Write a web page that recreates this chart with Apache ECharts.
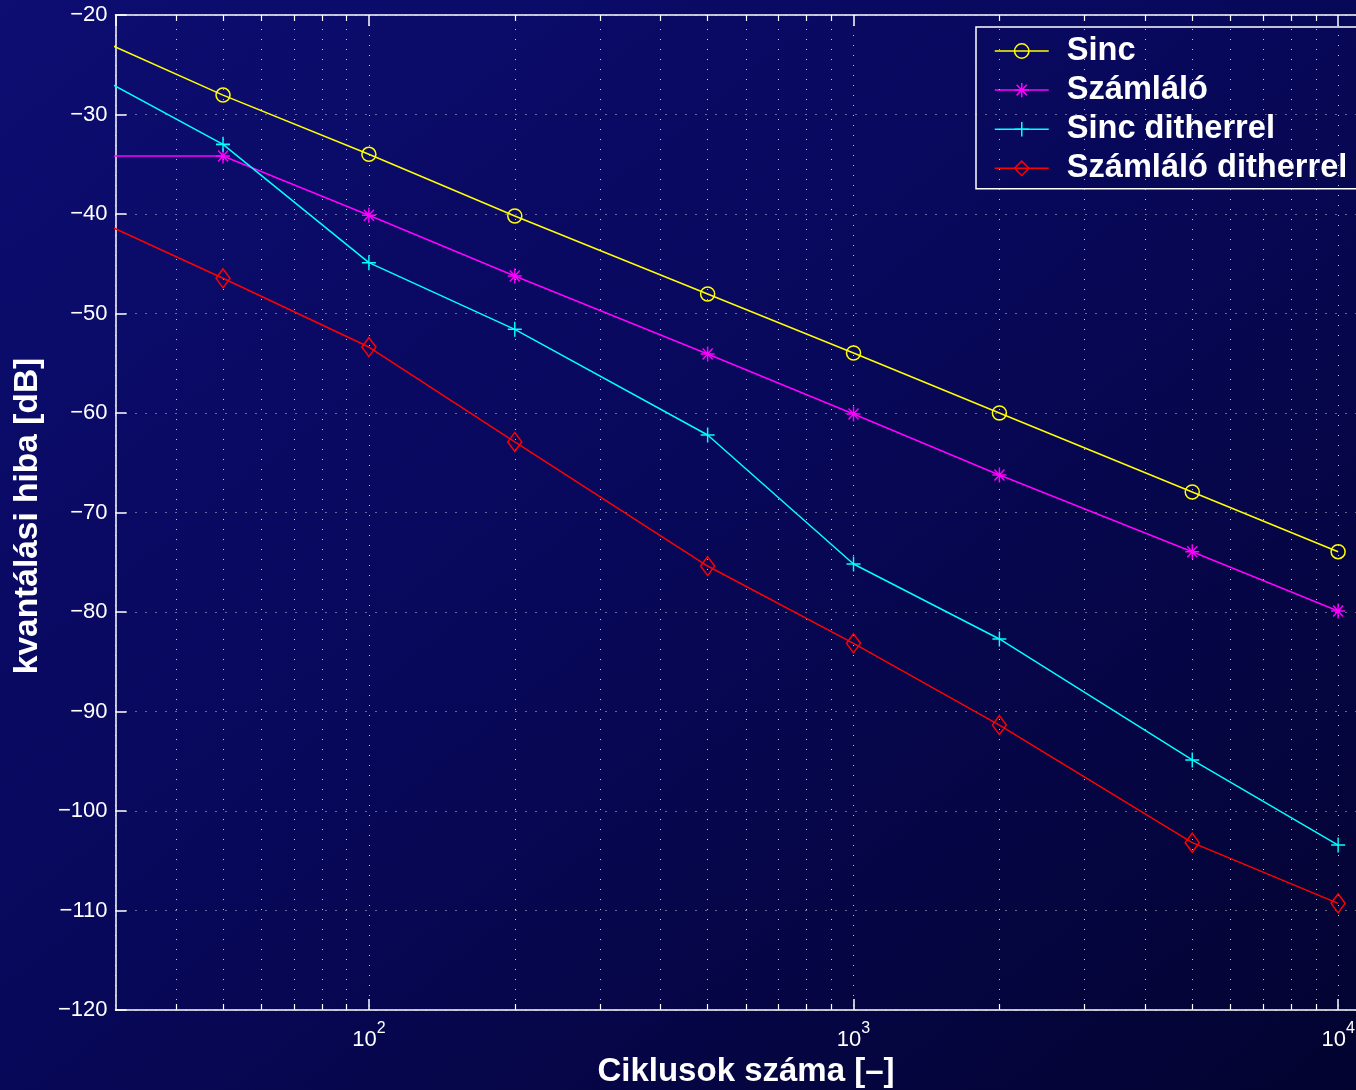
<!DOCTYPE html>
<html><head><meta charset="utf-8">
<script src="https://cdn.jsdelivr.net/npm/echarts@6/dist/echarts.min.js"></script>
<style>
html,body{margin:0;padding:0;width:1356px;height:1090px;overflow:hidden;
background:linear-gradient(to bottom right,#0d0d72 0%,#08085c 45%,#030330 100%);}
#c{width:1356px;height:1090px;}
</style></head><body><div id="c"></div>
<script>
// ---- data ----
const cycles = [20, 50, 100, 200, 500, 1000, 2000, 5000, 10000];
const sinc = [-19.4, -28.05, -34.0, -40.2, -48.04, -53.97, -60.0, -67.94, -73.94];
const szamlalo = [-34.17, -34.17, -40.13, -46.23, -54.07, -60.1, -66.23, -73.94, -79.9];
const sincDither = [-22.5, -33.0, -44.89, -51.59, -62.21, -75.18, -82.71, -94.87, -103.42];
const szamlaloDither = [-37.53, -46.46, -53.37, -62.91, -75.38, -83.15, -91.36, -103.18, -109.28];
const seriesNames = ['Sinc', 'Számláló', 'Sinc ditherrel', 'Számláló ditherrel'];
const minorX = [40, 50, 60, 70, 80, 90, 200, 300, 400, 500, 600, 700, 800, 900,
  2000, 3000, 4000, 5000, 6000, 7000, 8000, 9000];
const xMin = 30, xMax = 12000, yMin = -120, yMax = -20, yStep = 10;
const xTitle = 'Ciklusok száma [–]';
const yTitle = 'kvantálási hiba [dB]';

const FONT = "'Liberation Sans', Arial, Helvetica, sans-serif";
const WHITE = '#ffffff';
const DOT = { color: 'rgba(220,220,220,0.9)', type: [1, 9], width: 1 };

const pairs = ys => cycles.map((x, i) => [x, ys[i]]);

function dataSeries(name, ys, color, symbol, size) {
  return {
    type: 'line', name: name, data: pairs(ys), z: 5,
    clip: true, symbol: symbol, symbolSize: size,
    lineStyle: { color: color, width: 1.5 },
    itemStyle: { color: 'rgba(0,0,0,0)', borderColor: color, borderWidth: 1.5 },
    color: color,
    emphasis: { disabled: true }
  };
}

const ASTER = 'path://M0,7.5L14,7.5M7,0L7,15M2,2L12,13M2,13L12,2';
const PLUS = 'path://M0,7.5L14,7.5M7,0L7,15';

const tickSegs = [];
minorX.forEach(v => {
  tickSegs.push([{ coord: [v, yMin] }, { coord: [v, yMin + 0.6] }]);
  tickSegs.push([{ coord: [v, yMax] }, { coord: [v, yMax - 0.6] }]);
});

const option = {
  animation: false,
  textStyle: { fontFamily: FONT },
  grid: { left: 115.5, top: 15, width: 1261, height: 995, containLabel: false, outerBoundsMode: 'none' },
  legend: {
    data: seriesNames, orient: 'vertical', left: 976, top: 27,
    padding: [7.5, 60, 4, 18], itemWidth: 54, itemHeight: 18, itemGap: 6.1,
    borderColor: WHITE, borderWidth: 1.5, backgroundColor: 'transparent',
    selectedMode: false,
    itemStyle: { borderWidth: 1.5 },
    lineStyle: { width: 1.5 },
    textStyle: { color: WHITE, fontSize: 32.6, fontWeight: 'bold', fontFamily: FONT,
      lineHeight: 32, padding: [0, 0, 0, 13] }
  },
  xAxis: [{
    type: 'log', logBase: 10, min: xMin, max: xMax, gridIndex: 0,
    axisLine: { show: true, onZero: false, lineStyle: { color: WHITE, width: 1.5 } },
    axisTick: { show: true, inside: true, length: 11, lineStyle: { color: WHITE, width: 1.5 } },
    axisLabel: {
      showMinLabel: false, showMaxLabel: false, margin: 11,
      formatter: v => {
        const e = Math.round(Math.log10(v));
        return Math.abs(Math.pow(10, e) - v) < 1e-6 * v ? '{b|10}{s|' + e + '}' : '';
      },
      rich: {
        b: { color: WHITE, fontSize: 22, lineHeight: 30, verticalAlign: 'bottom', fontFamily: FONT },
        s: { color: WHITE, fontSize: 16, lineHeight: 16, verticalAlign: 'top', fontFamily: FONT }
      }
    },
    splitLine: { show: true, lineStyle: DOT },
    name: xTitle, nameLocation: 'middle', nameGap: 40,
    nameTextStyle: { color: WHITE, fontSize: 33, fontWeight: 'bold', fontFamily: FONT }
  }, {
    type: 'log', logBase: 10, min: xMin, max: xMax, gridIndex: 0, position: 'top',
    axisLine: { show: true, onZero: false, lineStyle: { color: WHITE, width: 1.5 } },
    axisTick: { show: true, inside: true, length: 11, lineStyle: { color: WHITE, width: 1.5 } },
    axisLabel: { show: false }, splitLine: { show: false }
  }],
  yAxis: {
    type: 'value', min: yMin, max: yMax, interval: yStep,
    axisLine: { show: true, onZero: false, lineStyle: { color: WHITE, width: 1.5 } },
    axisTick: { show: true, inside: true, length: 11, lineStyle: { color: WHITE, width: 1.5 } },
    axisLabel: { color: WHITE, fontSize: 22, margin: 8, fontFamily: FONT,
      formatter: v => v < 0 ? '\u2212' + (-v) : String(v) },
    splitLine: { show: true, lineStyle: DOT },
    name: yTitle, nameLocation: 'middle', nameGap: 71,
    nameTextStyle: { color: WHITE, fontSize: 33.5, fontWeight: 'bold', fontFamily: FONT,
      padding: [0, 7, 0, 0] }
  },
  series: [
    {
      type: 'line', name: '_minorgrid', data: [], z: 1, silent: true,
      markLine: { silent: true, symbol: ['none', 'none'], label: { show: false },
        animation: false, lineStyle: DOT, emphasis: { disabled: true },
        data: minorX.map(v => ({ xAxis: v })) }
    },
    {
      type: 'line', name: '_minorticks', data: [], z: 2, silent: true,
      markLine: { silent: true, symbol: ['none', 'none'], label: { show: false },
        animation: false, lineStyle: { color: WHITE, width: 1.2, type: 'solid' },
        emphasis: { disabled: true }, data: tickSegs }
    },
    dataSeries(seriesNames[0], sinc, '#ffff00', 'circle', 14),
    dataSeries(seriesNames[1], szamlalo, '#ff00ff', ASTER, [14, 15]),
    dataSeries(seriesNames[2], sincDither, '#00ffff', PLUS, [14, 15]),
    dataSeries(seriesNames[3], szamlaloDither, '#ff0000', 'diamond', [14, 19])
  ]
};

const chart = echarts.init(document.getElementById('c'), null, { renderer: 'canvas' });
chart.setOption(option);
</script>
</body></html>
